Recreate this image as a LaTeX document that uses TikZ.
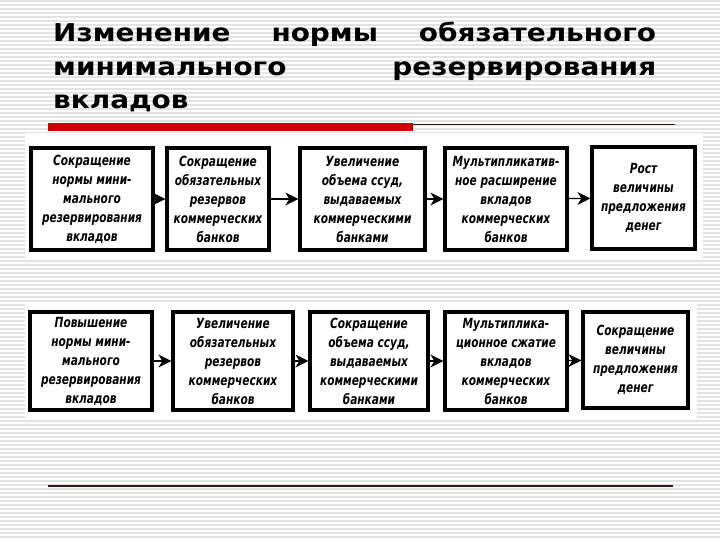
\documentclass[tikz,border=0pt]{standalone}
\usepackage{fontspec}
\setmainfont{DejaVu Sans}
\newfontfamily\boxfont[FakeStretch=0.84]{DejaVu Sans Condensed}
\newfontfamily\titlefont[FakeStretch=1.14]{DejaVu Sans}
\usetikzlibrary{arrows.meta}
\definecolor{barred}{RGB}{204,0,0}
\definecolor{linedark}{RGB}{60,20,20}
\begin{document}
\begin{tikzpicture}[x=1pt,y=-1pt,
  stripe/.style={line width=1.4pt, gray!22},
  stepbox/.style={draw, rectangle, line width=3.2pt, inner sep=0pt, align=center,
    font=\boxfont\bfseries\itshape\fontsize{14}{19}\selectfont},
  flow/.style={line width=1.3pt, -{Stealth[length=13pt,width=13pt,inset=4pt]}}]
\useasboundingbox (0,0) rectangle (720,540);
\fill[white] (0,0) rectangle (720,540);
\foreach \s in {1,5,...,537} \draw[stripe] (0,\s) -- (720,\s);
% scanned panels
\fill[white] (25,133) rectangle (703,258);
\fill[white] (25,303) rectangle (697,420);

% title
\node[anchor=north west, text width=603pt, align=justify, inner sep=0pt,
  font=\titlefont\bfseries\fontsize{24.5}{33.5}\selectfont] (title) at (53,22)
  {Изменение нормы обязательного\linebreak минимального резервирования\linebreak вкладов};
\coordinate (barL) at (48,127);
\coordinate (barM) at (413,127);
\coordinate (barR) at (675,124.5);
\draw[barred, line width=8pt] (barL) -- (barM);
\draw[linedark, line width=1pt] (barM |- barR) -- (barR);

% upper row
\node[stepbox, minimum width=122pt, minimum height=102pt] (b1) at (92,199)
  {Сокращение\\нормы мини-\\мального\\резервирования\\вкладов};
\node[stepbox, minimum width=102pt, minimum height=102pt] (b2) at (218,199)
  {Сокращение\\обязательных\\резервов\\коммерческих\\банков};
\node[stepbox, minimum width=125pt, minimum height=102pt] (b3) at (362.5,199)
  {Увеличение\\объема ссуд,\\выдаваемых\\коммерческими\\банками};
\node[stepbox, minimum width=122pt, minimum height=102pt] (b4) at (506,199)
  {Мультипликатив-\\ное расширение\\вкладов\\коммерческих\\банков};
\node[stepbox, minimum width=103pt, minimum height=102pt] (b5) at (643.5,198)
  {Рост\\величины\\предложения\\денег};

\draw[flow] (b1) -- (b2);
\draw[flow] (b2) -- (b3);
\draw[flow] (b3) -- (b4);
\draw[flow] (b4) -- (b5);

% lower row
\node[stepbox, minimum width=122pt, minimum height=98pt] (c1) at (91,361)
  {Повышение\\нормы мини-\\мального\\резервирования\\вкладов};
\node[stepbox, minimum width=120pt, minimum height=98pt] (c2) at (233,361)
  {Увеличение\\обязательных\\резервов\\коммерческих\\банков};
\node[stepbox, minimum width=118pt, minimum height=98pt] (c3) at (369,361)
  {Сокращение\\объема ссуд,\\выдаваемых\\коммерческими\\банками};
\node[stepbox, minimum width=122pt, minimum height=98pt] (c4) at (506,361)
  {Мультиплика-\\ционное сжатие\\вкладов\\коммерческих\\банков};
\node[stepbox, minimum width=105pt, minimum height=96pt] (c5) at (635.5,360)
  {Сокращение\\величины\\предложения\\денег};

\draw[flow] (c1) -- (c2);
\draw[flow] (c2) -- (c3);
\draw[flow] (c3) -- (c4);
\draw[flow] (c4) -- (c5);

% bottom rule
\coordinate (ruleL) at (48,486);
\coordinate (ruleR) at (673,486);
\draw[linedark, line width=1.2pt] (ruleL) -- (ruleR);
\end{tikzpicture}
\end{document}
